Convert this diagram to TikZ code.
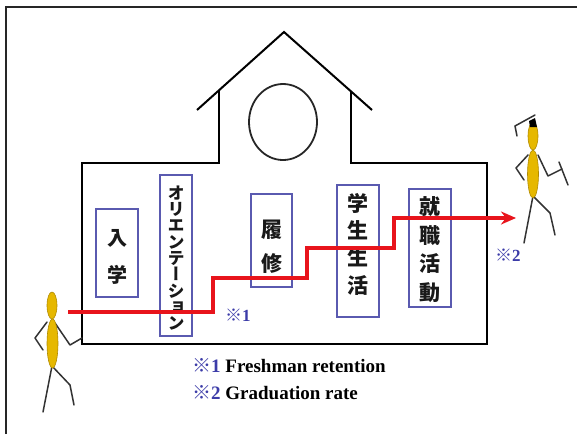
\documentclass[tikz,border=0pt]{standalone}
\usepackage{fontspec}
\setmainfont{Liberation Serif}
\newfontfamily\jp{Noto Sans CJK JP}
\newfontfamily\jpv[RawFeature=+vert]{Noto Sans CJK JP}
\usetikzlibrary{arrows.meta}
\definecolor{boxblue}{HTML}{5A5AB0}
\definecolor{markblue}{HTML}{3C3CA8}
\definecolor{pathred}{HTML}{E8141C}
\definecolor{bodygold}{HTML}{E6B800}
\definecolor{bodyedge}{HTML}{B08A00}
\definecolor{limb}{HTML}{333333}
\begin{document}
\begin{tikzpicture}[x=1pt,y=-1pt,
  frameline/.style={draw=black!85,line width=1.4pt},
  building/.style={draw=black,line width=2pt,line join=miter},
  stagebox/.style={draw=boxblue,line width=1.3pt,inner sep=0pt},
  stagetext/.style={align=center,inner sep=0pt,text=black!90},
  route/.style={draw=pathred,line width=3.2pt,line join=miter,-{Stealth[length=15pt,width=13pt]}},
  limbs/.style={draw=limb,line width=1.5pt,line cap=round,line join=round},
  torso/.style={fill=bodygold,draw=bodyedge,line width=0.6pt},
  refmark/.style={anchor=base west,inner sep=0pt,text=markblue,font=\bfseries\fontsize{17}{17}\selectfont},
  note/.style={anchor=base west,inner sep=0pt,font=\bfseries\fontsize{19}{19}\selectfont}]
\useasboundingbox (0,0) rectangle (577,434);

% outer frame (top and left edges)
\draw[frameline] (6,434) -- (6,7) -- (577,7);

% school building
\draw[building] (219,91) -- (219,163) -- (82,163) -- (82,344) -- (487,344)
  -- (487,163) -- (351,163) -- (351,91);
\draw[building] (197,110) -- (284,32) -- (372,110);
\draw[black!85,line width=1.8pt] (283,122) ellipse [x radius=34,y radius=38];

% stage boxes
\node[stagebox,minimum width=42,minimum height=88] (enter) at (117,253) {};
\node[stagebox,minimum width=32,minimum height=161] (orient) at (176,255.5) {};
\node[stagebox,minimum width=41,minimum height=93] (course) at (271.5,240.5) {};
\node[stagebox,minimum width=42,minimum height=132] (life) at (358,251) {};
\node[stagebox,minimum width=42,minimum height=118] (job) at (430,248) {};

\node[stagetext,font=\jpv\bfseries\fontsize{20}{37}\selectfont] (enterT) at (117,256.5) {入\\学};
\node[stagetext,font=\jpv\bfseries\fontsize{17}{16.3}\selectfont] (orientT) at (176,258) {オ\\リ\\エ\\ン\\テ\\ー\\シ\\ョ\\ン};
\node[stagetext,font=\jpv\bfseries\fontsize{21}{34}\selectfont] (courseT) at (271.5,247) {履\\修};
\node[stagetext,font=\jpv\bfseries\fontsize{21}{27.3}\selectfont] (lifeT) at (358,244) {学\\生\\生\\活};
\node[stagetext,font=\jpv\bfseries\fontsize{21}{28.5}\selectfont] (jobT) at (430,249.5) {就\\職\\活\\動};

% student route
\coordinate (r0) at (68,312);
\coordinate (r1) at (213,312);
\coordinate (r2) at (213,278);
\coordinate (r3) at (307,278);
\coordinate (r4) at (307,248);
\coordinate (r5) at (394,248);
\coordinate (r6) at (394,218);
\coordinate (r7) at (516,218);
\draw[route] (r0) -- (r1) -- (r2) -- (r3) -- (r4) -- (r5) -- (r6) -- (r7);

\node[refmark] (m1) at (225,321) {{\jp\bfseries ※}1};
\node[refmark] (m2) at (495,261) {{\jp\bfseries ※}2};

% freshman figure
\draw[limbs] (47,322) -- (35,338) -- (43,350);
\draw[limbs] (55,323) -- (70,345) -- (82,338);
\draw[limbs] (52,366) -- (43,412);
\draw[limbs] (52,366) -- (70,385) -- (74,405);
\fill[torso] (52,305.5) ellipse [x radius=5,y radius=13.5];
\fill[torso] (52.5,343.5) ellipse [x radius=5.5,y radius=24.5];

% graduate figure
\draw[limbs] (528,155) -- (516,168) -- (524,180);
\draw[limbs] (538,155) -- (548,176) -- (562,169);
\draw[limbs] (559,162) -- (568,185);
\draw[limbs] (533,196) -- (524,243);
\draw[limbs] (533,196) -- (550,213) -- (555,235);
\fill[torso] (533,136) ellipse [x radius=5,y radius=14];
\fill[torso] (533,174) ellipse [x radius=5.5,y radius=24];
\draw[limbs] (515,126) -- (535,115);
\draw[limbs] (515,126) -- (517,136);
\fill[black] (529,121) -- (535,118) -- (537,127) -- (530,127) -- cycle;

% legend
\node[note] (note1) at (192,372) {\textcolor{markblue}{{\jp\bfseries ※}1} Freshman retention};
\node[note] (note2) at (192,399) {\textcolor{markblue}{{\jp\bfseries ※}2} Graduation rate};
\end{tikzpicture}
\end{document}
